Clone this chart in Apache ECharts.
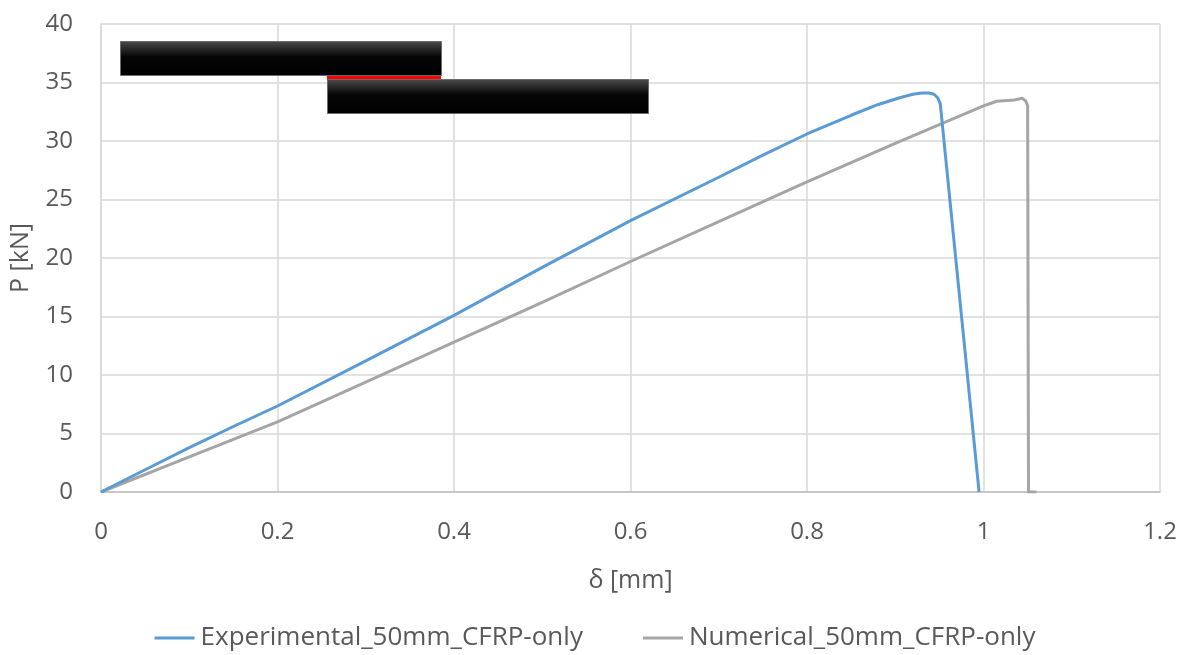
<!DOCTYPE html>
<html>
<head>
<meta charset="utf-8">
<script src="https://cdn.jsdelivr.net/npm/echarts@6/dist/echarts.min.js"></script>
<style>
  html, body { margin: 0; padding: 0; background: #fff; }
  #chart { width: 1190px; height: 655px; }
</style>
</head>
<body>
<div id="chart"></div>
<script>
// Load–displacement curves, δ in mm, P in kN
const expDelta = [0, 0.05, 0.1, 0.15, 0.2, 0.3, 0.4, 0.5, 0.6, 0.7, 0.75, 0.8, 0.85, 0.88, 0.905, 0.92, 0.93, 0.938, 0.944, 0.948, 0.951, 0.995];
const expLoad  = [0, 1.9, 3.8, 5.6, 7.35, 11.2, 15.1, 19.2, 23.2, 26.9, 28.8, 30.6, 32.2, 33.1, 33.7, 34.0, 34.1, 34.1, 34.0, 33.7, 33.2, 0];

const numDelta = [0, 0.1, 0.2, 0.3, 0.4, 0.5, 0.6, 0.7, 0.8, 0.9, 1.0, 1.015, 1.035, 1.044, 1.048, 1.05, 1.051, 1.06];
const numLoad  = [0, 3.0, 6.0, 9.4, 12.8, 16.2, 19.7, 23.1, 26.5, 29.8, 33.0, 33.4, 33.5, 33.65, 33.4, 33.0, 0, 0];

const seriesNames = ['Experimental_50mm_CFRP-only', 'Numerical_50mm_CFRP-only'];
const seriesColors = ['#5B9BD5', '#A5A5A5'];

const xTicks = { min: 0, max: 1.2, step: 0.2 };
const yTicks = { min: 0, max: 40, step: 5 };

const pairs = (xs, ys) => xs.map((x, i) => [x, ys[i]]);

const FONT = '"Open Sans", "Liberation Sans", sans-serif';
const TEXT = '#595959';

const chart = echarts.init(document.getElementById('chart'), null, { renderer: 'canvas' });

// Dark label boxes with a glossy top edge
const boxFill = {
  type: 'linear', x: 0, y: 0, x2: 0, y2: 1,
  colorStops: [
    { offset: 0, color: '#4d4d4d' },
    { offset: 0.45, color: '#050505' },
    { offset: 1, color: '#000000' }
  ]
};

chart.setOption({
  backgroundColor: '#ffffff',
  animation: false,
  textStyle: { fontFamily: FONT },
  grid: { left: 101, right: 30, top: 24, bottom: 163, containLabel: false },
  xAxis: {
    type: 'value',
    min: xTicks.min, max: xTicks.max, interval: xTicks.step,
    name: 'δ [mm]',
    nameLocation: 'middle',
    nameGap: 76,
    nameTextStyle: { color: TEXT, fontSize: 25, fontFamily: FONT },
    axisLine: { show: true, lineStyle: { color: '#BFBFBF', width: 1.5 } },
    axisTick: { show: false },
    axisLabel: { color: TEXT, fontSize: 24, margin: 28, fontFamily: FONT },
    splitLine: { show: true, lineStyle: { color: '#D9D9D9', width: 1.5 } }
  },
  yAxis: {
    type: 'value',
    min: yTicks.min, max: yTicks.max, interval: yTicks.step,
    name: 'P [kN]',
    nameLocation: 'middle',
    nameGap: 68,
    nameRotate: 90,
    nameTextStyle: { color: TEXT, fontSize: 25, fontFamily: FONT },
    axisLine: { show: true, lineStyle: { color: '#D9D9D9', width: 1.5 } },
    axisTick: { show: false },
    axisLabel: { color: TEXT, fontSize: 24, margin: 28, fontFamily: FONT },
    splitLine: { show: true, lineStyle: { color: '#D9D9D9', width: 1.5 } }
  },
  legend: {
    top: 620,
    left: 'center',
    itemWidth: 40,
    itemHeight: 3,
    itemGap: 60,
    icon: 'rect',
    textStyle: { color: TEXT, fontSize: 26, fontFamily: FONT, padding: [0, 0, 0, 1] },
    data: seriesNames
  },
  series: [
    {
      name: seriesNames[0],
      type: 'line',
      data: pairs(expDelta, expLoad),
      showSymbol: false,
      smooth: false,
      color: seriesColors[0],
      lineStyle: { color: seriesColors[0], width: 3, join: 'round' },
      z: 3
    },
    {
      name: seriesNames[1],
      type: 'line',
      data: pairs(numDelta, numLoad),
      showSymbol: false,
      smooth: false,
      color: seriesColors[1],
      lineStyle: { color: seriesColors[1], width: 3, join: 'round' },
      z: 2
    }
  ],
  graphic: [
    {
      type: 'rect', z: 100,
      shape: { x: 327, y: 74, width: 114, height: 6 },
      style: { fill: '#FF0000' }
    },
    {
      type: 'rect', z: 101,
      shape: { x: 120.5, y: 41.5, width: 321, height: 34 },
      style: { fill: boxFill, stroke: '#6b6b6b', lineWidth: 1 }
    },
    {
      type: 'rect', z: 101,
      shape: { x: 327.5, y: 79.5, width: 321, height: 34 },
      style: { fill: boxFill, stroke: '#6b6b6b', lineWidth: 1 }
    }
  ]
});
</script>
</body>
</html>
